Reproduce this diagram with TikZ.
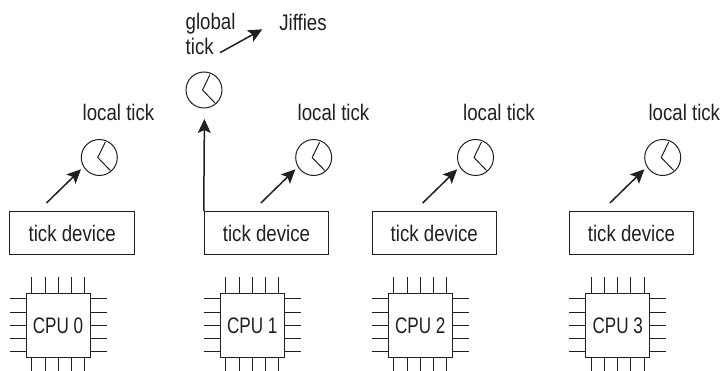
\documentclass[tikz,border=0pt]{standalone}
\usepackage{fontspec}
\setmainfont[FakeStretch=0.83]{Liberation Sans}
\newfontfamily\cpufont[FakeStretch=0.76]{Liberation Sans}
\usetikzlibrary{arrows.meta,positioning,calc}
\definecolor{ink}{HTML}{231F20}
\tikzset{
  devbox/.style={draw=ink,line width=1pt,minimum width=124.5pt,minimum height=43pt,inner sep=0pt,font=\fontsize{22.5}{25}\selectfont,text=ink},
  chipbox/.style={draw=ink,line width=1pt,minimum width=64pt,minimum height=64pt,inner sep=0pt,font=\cpufont\fontsize{22.5}{25}\selectfont,text=ink},
  clockface/.style={circle,draw=ink,line width=1pt,minimum size=36pt,inner sep=0pt},
  lbl/.style={font=\fontsize{22.5}{25}\selectfont,text=ink,inner sep=0pt},
  pin/.style={draw=ink,line width=0.9pt},
  tickarrow/.style={draw=ink,line width=1.5pt,-{Stealth[length=14pt,width=13pt,inset=3pt]}},
}
% #1 name, #2 centre x, #3 centre y
\newcommand{\clockdial}[3]{%
  \node[clockface] (#1) at (#2,#3) {};
  \draw[draw=ink,line width=1pt] ($(#1)+(6,-15.5)$) -- ($(#1)+(-1.5,0)$) -- ($(#1)+(11,13)$);
}
% #1 name, #2 centre x of chip, #3 text
\newcommand{\cpuchip}[3]{%
  \node[chipbox] (#1) at (#2,325.3) {#3};
  \foreach \k in {-26.5,-13,0,13,26.5} {
    \draw[pin] ($(#1.north)+(\k,0)$) -- ++(0,-16);
    \draw[pin] ($(#1.south)+(\k,0)$) -- ++(0,14);
    \draw[pin] ($(#1.west)+(0,\k)$) -- ++(-16,0);
    \draw[pin] ($(#1.east)+(0,\k)$) -- ++(16,0);
  }
}
% #1 id, #2 device x, #3 chip x, #4 clock x, #5 label x, #6 cpu text
\newcommand{\cpucolumn}[6]{%
  \node[devbox] (dev#1) at (#2,233.2) {tick device};
  \cpuchip{cpu#1}{#3}{#6}
  \clockdial{clk#1}{#4}{157.5}
  \node[lbl] (lbl#1) at (#5,112) {local tick};
  \coordinate (from#1) at ($(clk#1)+(-52.8,45.5)$);
  \coordinate (to#1) at ($(clk#1)+(-18.3,11.8)$);
  \draw[tickarrow] (from#1) -- (to#1);
}

\begin{document}
\begin{tikzpicture}[x=1pt,y=-1pt]
  \useasboundingbox (0,0) rectangle (721,371);
  \cpucolumn{0}{72.2}{58}{99.3}{118.5}{CPU 0}
  \cpucolumn{1}{266.5}{252.3}{313.7}{333.5}{CPU 1}
  \cpucolumn{2}{434.3}{420.3}{475.5}{499}{CPU 2}
  \cpucolumn{3}{631.5}{617.7}{662.7}{684.3}{CPU 3}
  % global tick on top of cpu 1
  \clockdial{clkg}{204}{90}
  \coordinate (tipg) at (204.4,119);
  \draw[tickarrow] (dev1.north west) -- (tipg);
  \node[lbl,align=left,anchor=north west] (glob) at (185.5,13) {global\\tick};
  \node[lbl] (jif) at (303,22) {Jiffies};
  \coordinate (fromg) at (220,52.7);
  \coordinate (tojif) at (262.3,29.3);
  \draw[tickarrow] (fromg) -- (tojif);
\end{tikzpicture}
\end{document}
